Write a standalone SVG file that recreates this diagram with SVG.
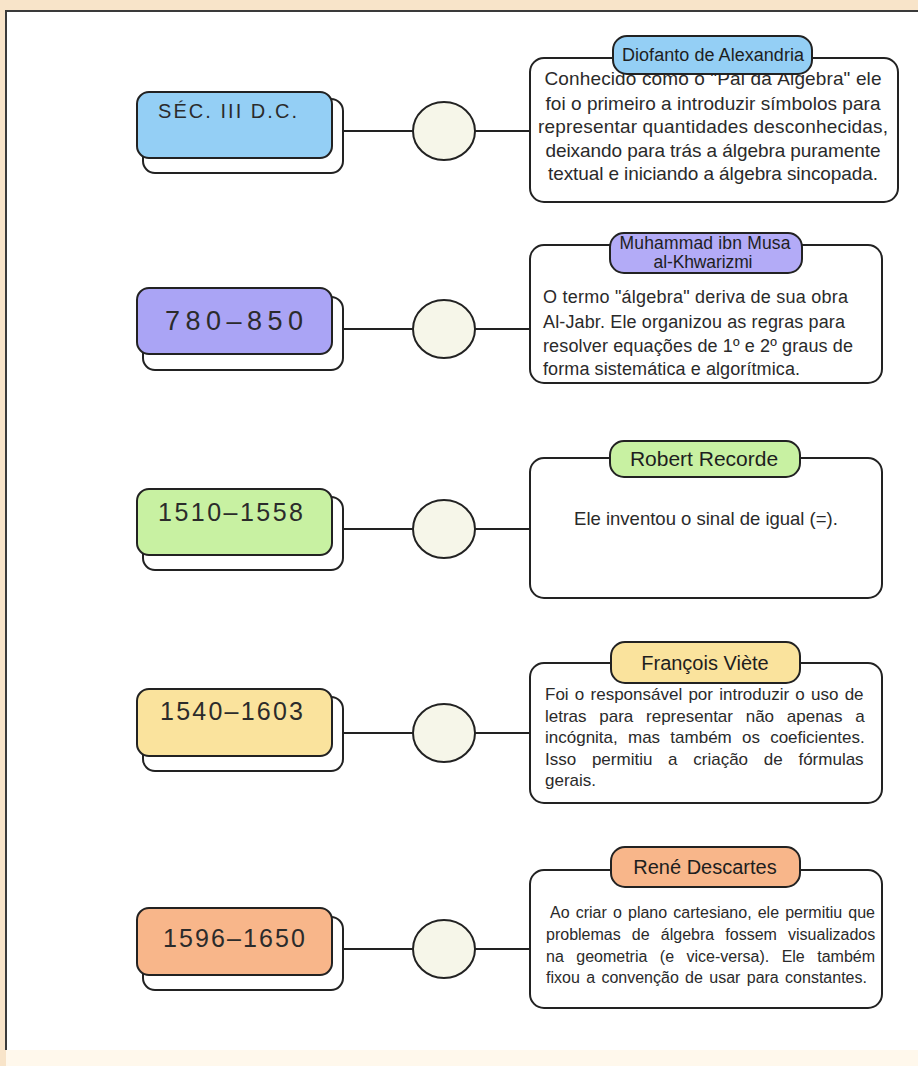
<svg xmlns="http://www.w3.org/2000/svg" width="918" height="1066" viewBox="0 0 918 1066">
<style>
.bk{fill:#fff;stroke:#222;stroke-width:2}
.fr{stroke:#222;stroke-width:2}
.card{fill:#fff;stroke:#222;stroke-width:2}
.pill{stroke:#222;stroke-width:2}
.dot{fill:#f6f6e9;stroke:#222;stroke-width:2}
.yr{font-family:"Liberation Sans",Arial,sans-serif;fill:#2b2b2b}
.pt{font-family:"Liberation Sans",Arial,sans-serif;fill:#1e1e1e;text-anchor:middle}
.bd{font-family:"Liberation Sans",Arial,sans-serif;fill:#2a2a2a}
.c{text-anchor:middle}
.conn line{stroke:#222;stroke-width:2}
</style>
<rect x="0" y="0" width="918" height="1066" fill="#f8e4c9"/>
<rect x="6" y="1050" width="912" height="16" fill="#fff8ec"/>
<rect x="6" y="11" width="912" height="1039" fill="#fff"/>
<path d="M6 1050 V11 H918" fill="none" stroke="#3a3a3a" stroke-width="2"/>

<g class="conn" id="connectors">
<line x1="343" y1="131" x2="413" y2="131"/><line x1="475" y1="131" x2="530" y2="131"/>
<line x1="343" y1="329" x2="413" y2="329"/><line x1="475" y1="329" x2="530" y2="329"/>
<line x1="343" y1="529" x2="413" y2="529"/><line x1="475" y1="529" x2="530" y2="529"/>
<line x1="343" y1="733" x2="413" y2="733"/><line x1="475" y1="733" x2="530" y2="733"/>
<line x1="343" y1="949" x2="413" y2="949"/><line x1="475" y1="949" x2="530" y2="949"/>
</g>

<!-- Row 1 -->
<g id="date1">
<rect class="bk" x="143" y="99" width="200" height="74" rx="12"/>
<rect class="fr" x="137" y="92" width="195" height="66" rx="12" fill="#94cff5"/>
<text class="yr" x="158" y="118" font-size="20" textLength="139" fill="#1f3b4f">SÉC. III D.C.</text>
</g>
<g id="dot1"><ellipse class="dot" cx="444" cy="131" rx="31" ry="29"/></g>
<g id="card1">
<rect class="card" x="530" y="58" width="368" height="144" rx="14"/>
<text class="bd c" x="713" y="85" font-size="19" textLength="337">Conhecido como o "Pai da Álgebra"  ele</text>
<text class="bd c" x="713" y="110" font-size="19" textLength="335">foi o primeiro a introduzir símbolos para</text>
<text class="bd c" x="713" y="133" font-size="19" textLength="350">representar quantidades desconhecidas,</text>
<text class="bd c" x="713" y="157" font-size="19" textLength="335">deixando para trás a álgebra puramente</text>
<text class="bd c" x="713" y="180" font-size="19" textLength="330">textual e iniciando a álgebra sincopada.</text>
<rect class="pill" x="613" y="36" width="199" height="38" rx="14" fill="#94cff5"/>
<text class="pt" x="713" y="61" font-size="18" textLength="182">Diofanto de Alexandria</text>
</g>

<!-- Row 2 -->
<g id="date2">
<rect class="bk" x="143" y="297" width="200" height="73" rx="12"/>
<rect class="fr" x="137" y="288" width="195" height="66" rx="12" fill="#aaa4f5"/>
<text class="yr" x="165" y="330" font-size="27" textLength="138" fill="#2b2b40">780–850</text>
</g>
<g id="dot2"><ellipse class="dot" cx="444" cy="329" rx="31" ry="29"/></g>
<g id="card2">
<rect class="card" x="530" y="245" width="352" height="138" rx="14"/>
<rect class="pill" x="610" y="233" width="192" height="40" rx="14" fill="#b3abf7"/>
<text class="pt" x="705" y="249" font-size="17.5" textLength="171">Muhammad ibn Musa</text>
<text class="pt" x="703" y="268" font-size="17.5" textLength="99">al-Khwarizmi</text>
<text class="bd" x="543" y="303" font-size="18" textLength="305"> O termo "álgebra" deriva de sua obra</text>
<text class="bd" x="543" y="328" font-size="18" textLength="302">Al-Jabr. Ele organizou as regras para</text>
<text class="bd" x="543" y="352" font-size="18" textLength="310">resolver equações de 1º e 2º graus de</text>
<text class="bd" x="543" y="375" font-size="18" textLength="257">forma sistemática e algorítmica.</text>
</g>

<!-- Row 3 -->
<g id="date3">
<rect class="bk" x="143" y="497" width="200" height="73" rx="12"/>
<rect class="fr" x="137" y="489" width="195" height="66" rx="12" fill="#c8f1a2"/>
<text class="yr" x="158" y="521" font-size="25" textLength="145">1510–1558</text>
</g>
<g id="dot3"><ellipse class="dot" cx="444" cy="529" rx="31" ry="29"/></g>
<g id="card3">
<rect class="card" x="530" y="458" width="352" height="140" rx="14"/>
<rect class="pill" x="610" y="441" width="190" height="36" rx="14" fill="#c8f1a2"/>
<text class="pt" x="704" y="466" font-size="21">Robert Recorde</text>
<text class="bd c" x="706" y="525" font-size="18.5">Ele inventou o sinal de igual (=).</text>
</g>

<!-- Row 4 -->
<g id="date4">
<rect class="bk" x="143" y="697" width="200" height="74" rx="12"/>
<rect class="fr" x="137" y="689" width="195" height="67" rx="12" fill="#fae39d"/>
<text class="yr" x="160" y="720" font-size="25" textLength="143">1540–1603</text>
</g>
<g id="dot4"><ellipse class="dot" cx="444" cy="733" rx="31" ry="29"/></g>
<g id="card4">
<rect class="card" x="530" y="663" width="352" height="140" rx="14"/>
<rect class="pill" x="611" y="642" width="189" height="41" rx="14" fill="#fae39d"/>
<text class="pt" x="705" y="670" font-size="20">François Viète</text>
<text class="bd" x="545" y="700" font-size="17" word-spacing="1.5">Foi o responsável por introduzir o uso de</text>
<text class="bd" x="545" y="722" font-size="17" word-spacing="8">letras para representar não apenas a</text>
<text class="bd" x="545" y="743" font-size="17" word-spacing="5.5">incógnita, mas também os coeficientes.</text>
<text class="bd" x="545" y="765" font-size="17" word-spacing="11">Isso permitiu a criação de fórmulas</text>
<text class="bd" x="545" y="786" font-size="17">gerais.</text>
</g>

<!-- Row 5 -->
<g id="date5">
<rect class="bk" x="143" y="917" width="200" height="73" rx="12"/>
<rect class="fr" x="137" y="908" width="195" height="67" rx="12" fill="#f8b68a"/>
<text class="yr" x="163" y="947" font-size="25" textLength="142">1596–1650</text>
</g>
<g id="dot5"><ellipse class="dot" cx="444" cy="949" rx="31" ry="29"/></g>
<g id="card5">
<rect class="card" x="530" y="870" width="352" height="138" rx="14"/>
<rect class="pill" x="611" y="847" width="189" height="40" rx="14" fill="#f8b68a"/>
<text class="pt" x="705" y="874" font-size="20">René Descartes</text>
<text class="bd" x="550" y="918" font-size="16" word-spacing="1.7">Ao criar o plano cartesiano, ele permitiu que</text>
<text class="bd" x="546" y="940" font-size="16" word-spacing="6.7">problemas de álgebra fossem visualizados</text>
<text class="bd" x="546" y="962" font-size="16" word-spacing="8">na geometria (e vice-versa). Ele também</text>
<text class="bd" x="546" y="983" font-size="16" word-spacing="1.9">fixou a convenção de usar para constantes.</text>
</g>
</svg>
